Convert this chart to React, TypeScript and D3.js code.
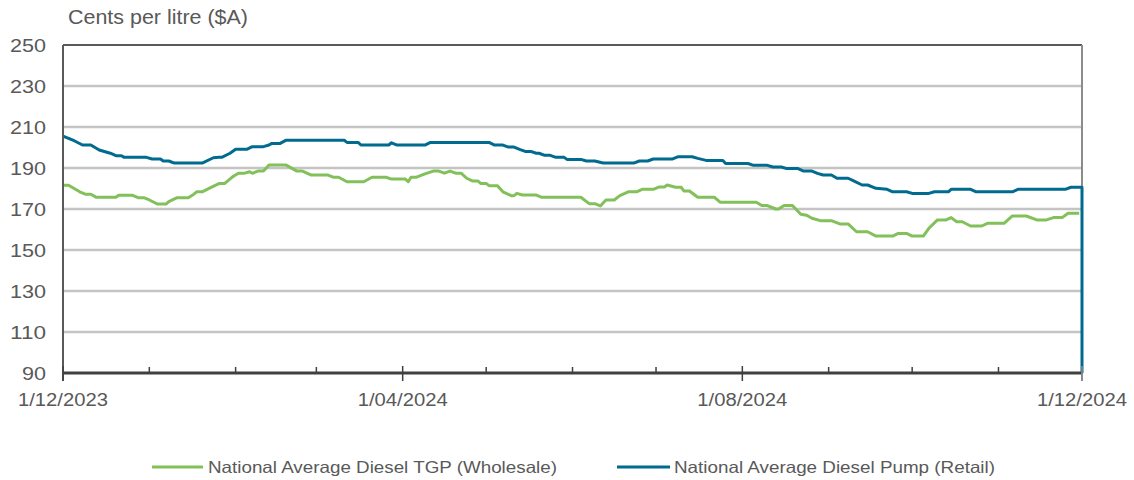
import React from "react";
import * as d3 from "d3";

const yTicks = [90, 110, 130, 150, 170, 190, 210, 230, 250];
const xLabelDates = ["2023-12-01", "2024-04-01", "2024-08-01", "2024-12-01"];
const xLabels = ["1/12/2023", "1/04/2024", "1/08/2024", "1/12/2024"];
const seriesNames = ["National Average Diesel TGP (Wholesale)", "National Average Diesel Pump (Retail)"];

const retailDates = [
  "2023-12-01","2023-12-03","2023-12-05","2023-12-08","2023-12-11","2023-12-14","2023-12-18","2023-12-20","2023-12-22","2023-12-23","2023-12-31",
  "2024-01-02","2024-01-05","2024-01-06","2024-01-08","2024-01-10","2024-01-20","2024-01-24","2024-01-26","2024-01-27","2024-01-30",
  "2024-02-01","2024-02-05","2024-02-07","2024-02-11","2024-02-13","2024-02-14","2024-02-17","2024-02-19",
  "2024-03-11","2024-03-12","2024-03-16","2024-03-17","2024-03-27","2024-03-28","2024-03-30",
  "2024-04-09","2024-04-11",
  "2024-05-02","2024-05-04","2024-05-07","2024-05-09","2024-05-11","2024-05-13","2024-05-15","2024-05-17","2024-05-19","2024-05-20","2024-05-22","2024-05-24","2024-05-26","2024-05-29","2024-05-30",
  "2024-06-04","2024-06-06","2024-06-09","2024-06-12","2024-06-23","2024-06-25","2024-06-28","2024-06-30",
  "2024-07-07","2024-07-09","2024-07-14","2024-07-16","2024-07-19","2024-07-25","2024-07-26",
  "2024-08-03","2024-08-05","2024-08-10","2024-08-12","2024-08-15","2024-08-17","2024-08-21","2024-08-23","2024-08-26","2024-08-28","2024-08-30",
  "2024-09-02","2024-09-04","2024-09-08","2024-09-10","2024-09-13","2024-09-15","2024-09-18","2024-09-22","2024-09-24","2024-09-29",
  "2024-10-01","2024-10-07","2024-10-09","2024-10-14","2024-10-15","2024-10-22","2024-10-24",
  "2024-11-06","2024-11-08","2024-11-25","2024-11-27","2024-12-01","2024-12-01",
];
const retailValues = [
  205.6,204.5,203.3,201.2,201.2,198.8,197.2,196,196,195.2,195.2,
  194.4,194.4,193.4,193.4,192.4,192.4,195,195.2,195.2,197.2,
  199.1,199.1,200.4,200.4,201.2,202,202,203.5,
  203.5,202.5,202.5,201.2,201.2,202.3,201.2,
  201.2,202.5,
  202.5,201.2,201.2,200.2,200.2,199.1,198.1,198.1,197.2,197.2,196.2,196.2,195.2,195.2,194.2,
  194.2,193.4,193.4,192.4,192.4,193.4,193.4,194.4,
  194.4,195.5,195.5,194.7,193.7,193.7,192.2,
  192.2,191.3,191.3,190.5,190.5,189.7,189.7,188.5,188.5,187.4,186.6,
  186.6,185,185,183.7,181.7,181.7,180.1,179.6,178.4,178.4,
  177.6,177.6,178.4,178.4,179.6,179.6,178.4,
  178.4,179.6,179.6,180.6,180.6,90,
];

const wholesaleDates = [
  "2023-12-01","2023-12-03","2023-12-07","2023-12-09","2023-12-11","2023-12-13","2023-12-20","2023-12-21","2023-12-26","2023-12-28","2023-12-30",
  "2024-01-01","2024-01-04","2024-01-07","2024-01-08","2024-01-11","2024-01-15","2024-01-17","2024-01-18","2024-01-20","2024-01-23","2024-01-26","2024-01-28","2024-01-31",
  "2024-02-02","2024-02-04","2024-02-06","2024-02-07","2024-02-09","2024-02-11","2024-02-13","2024-02-19","2024-02-23","2024-02-25","2024-02-28",
  "2024-03-05","2024-03-07","2024-03-09","2024-03-12","2024-03-18","2024-03-21","2024-03-26","2024-03-28",
  "2024-04-02","2024-04-03","2024-04-04","2024-04-06","2024-04-09","2024-04-12","2024-04-14","2024-04-16","2024-04-18","2024-04-20","2024-04-22","2024-04-24","2024-04-26","2024-04-28","2024-04-29",
  "2024-05-01","2024-05-02","2024-05-05","2024-05-07","2024-05-10","2024-05-11","2024-05-12","2024-05-14","2024-05-19","2024-05-21",
  "2024-06-04","2024-06-07","2024-06-09","2024-06-11","2024-06-13","2024-06-16","2024-06-18","2024-06-21","2024-06-24","2024-06-26","2024-06-30",
  "2024-07-02","2024-07-04","2024-07-05","2024-07-08","2024-07-10","2024-07-11","2024-07-13","2024-07-16","2024-07-22","2024-07-24",
  "2024-08-06","2024-08-08","2024-08-10","2024-08-13","2024-08-14","2024-08-16","2024-08-19","2024-08-22","2024-08-24","2024-08-26","2024-08-29",
  "2024-09-02","2024-09-05","2024-09-08","2024-09-11","2024-09-15","2024-09-18","2024-09-24","2024-09-26","2024-09-29",
  "2024-10-01","2024-10-05","2024-10-07","2024-10-10","2024-10-13","2024-10-15","2024-10-17","2024-10-19","2024-10-22","2024-10-26","2024-10-28",
  "2024-11-03","2024-11-06","2024-11-11","2024-11-15","2024-11-18","2024-11-21","2024-11-24","2024-11-26","2024-11-30",
];
const wholesaleValues = [
  181.6,181.6,178.4,177.2,177.2,175.7,175.7,176.7,176.7,175.5,175.5,
  174.4,172.4,172.4,173.6,175.5,175.5,177.2,178.4,178.4,180.4,182.4,182.4,185.8,
  187.4,187.4,188.2,187.4,188.5,188.5,191.5,191.5,188.5,188.5,186.6,
  186.6,185.5,185.5,183.3,183.3,185.5,185.5,184.6,
  184.6,183.3,185.5,185.5,187.1,188.5,188.5,187.5,188.5,187.5,187.5,185,183.7,183.7,182.5,
  182.5,181.4,181.4,178.4,176.5,176.5,177.6,176.8,176.8,175.7,
  175.7,172.6,172.6,171.5,174.4,174.4,176.5,178.4,178.4,179.6,179.6,
  180.7,180.7,181.7,180.6,180.6,178.8,178.8,175.7,175.7,173.3,
  173.3,171.7,171.7,170,170,171.7,171.7,167.4,167,165.5,164.3,
  164.3,162.7,162.7,158.9,158.9,156.8,156.8,158.1,158.1,
  156.8,156.8,160.6,164.6,164.6,165.8,163.8,163.8,161.7,161.7,163,
  163,166.6,166.6,164.6,164.6,165.9,165.9,167.9,167.9,
];

const GREEN = "#82c05a";
const BLUE = "#006b8f";
const TEXT = "#595959";
const FONT = "'Liberation Sans', Arial, sans-serif";

const parse = d3.utcParse("%Y-%m-%d");

export default function App() {
  const W = 1134, H = 480;
  const left = 63, right = 1082, top = 45, bottom = 373;
  const x = d3.scaleUtc().domain([parse("2023-12-01")!, parse("2024-12-01")!]).range([left, right]);
  const y = d3.scaleLinear().domain([90, 250]).range([bottom, top]);

  const line = d3.line<[Date, number]>().x((d) => x(d[0])).y((d) => y(d[1]));
  const wholesale: [Date, number][] = wholesaleDates.map((d, i) => [parse(d)!, wholesaleValues[i]]);
  const retail: [Date, number][] = retailDates.map((d, i) => [parse(d)!, retailValues[i]]);

  const monthTicks = d3.utcMonth.range(parse("2023-12-01")!, parse("2024-12-02")!);
  const majorSet = new Set(xLabelDates);
  const fmt = d3.utcFormat("%Y-%m-%d");

  return (
    <svg width={W} height={H} style={{ position: "absolute", left: 0, top: 0, background: "#fff" }} fontFamily={FONT}>
      <text x={68} y={24} fontSize={19.5} fill={TEXT} textLength={180} lengthAdjust="spacingAndGlyphs">Cents per litre ($A)</text>
      {yTicks.map((t) => (
        <g key={t}>
          {t > 90 && t < 250 && (
            <line x1={left} x2={right} y1={y(t)} y2={y(t)} stroke="#c4c4c4" strokeWidth={2.5} />
          )}
          <text x={46} y={y(t) + 6.5} fontSize={18} fill={TEXT} textAnchor="end" textLength={t >= 100 ? 36 : 24} lengthAdjust="spacingAndGlyphs">{t}</text>
        </g>
      ))}
      <line x1={left} x2={right} y1={top} y2={top} stroke="#5a5a5a" strokeWidth={2} />
      <line x1={right} x2={right} y1={top} y2={bottom + 8} stroke="#8c8c8c" strokeWidth={2} />
      <path d={line(wholesale) || ""} fill="none" stroke={GREEN} strokeWidth={3} strokeLinejoin="round" />
      <path d={line(retail) || ""} fill="none" stroke={BLUE} strokeWidth={3} strokeLinejoin="round" />
      <line x1={left} x2={left} y1={top} y2={bottom + 8} stroke="#5a5a5a" strokeWidth={2} />
      <line x1={left} x2={right} y1={bottom} y2={bottom} stroke="#404040" strokeWidth={3} />
      {monthTicks.map((m) => {
        const major = majorSet.has(fmt(m));
        const xx = x(m);
        return (
          <line key={fmt(m)} x1={xx} x2={xx} y1={major ? bottom - 7 : bottom - 6} y2={major ? bottom + 8 : bottom}
            stroke={fmt(m) === "2024-12-01" ? "#8c8c8c" : "#404040"} strokeWidth={1.5} />
        );
      })}
      {xLabelDates.map((d, i) => (
        <text key={d} x={x(parse(d)!)} y={406} fontSize={18} fill={TEXT} textAnchor="middle" textLength={90} lengthAdjust="spacingAndGlyphs">{xLabels[i]}</text>
      ))}
      <line x1={152} x2={203} y1={467} y2={467} stroke={GREEN} strokeWidth={3} />
      <text x={208} y={473} fontSize={16.5} fill={TEXT} textLength={349} lengthAdjust="spacingAndGlyphs">{seriesNames[0]}</text>
      <line x1={617} x2={670} y1={467} y2={467} stroke={BLUE} strokeWidth={3} />
      <text x={674} y={473} fontSize={16.5} fill={TEXT} textLength={321} lengthAdjust="spacingAndGlyphs">{seriesNames[1]}</text>
    </svg>
  );
}
